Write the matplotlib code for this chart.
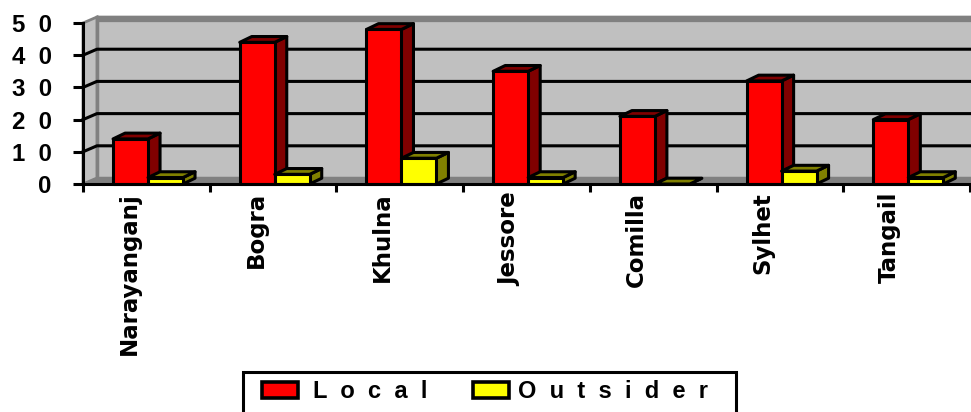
import matplotlib.pyplot as plt
from matplotlib.patches import Rectangle, Polygon
from matplotlib.font_manager import FontProperties
from matplotlib.transforms import offset_copy

# survey counts per district
cities = ['Narayanganj', 'Bogra', 'Khulna', 'Jessore', 'Comilla', 'Sylhet', 'Tangail']
local = [14, 44, 48, 35, 21, 32, 20]
outsider = [2, 3, 8, 2, 0, 4, 2]
yticks = [0, 10, 20, 30, 40, 50]
ytick_labels = ['0', '1  0', '2  0', '3  0', '4  0', '5  0']
series_names = ['L  o  c  a  l', 'O  u  t  s  i  d  e  r']
series_colors = ['#ff0000', '#ffff00']
series_shades = ['#800000', '#808000']

arial_b = FontProperties(family='Liberation Sans', weight='bold')
wide_b = FontProperties(family='DejaVu Sans', weight='bold', size=16.5)

W, H = 971, 412
fig = plt.figure(figsize=(W / 100, H / 100), dpi=100)
ax = fig.add_axes([83 / W, 228 / H, 887 / W, 161 / H])
n = len(cities)
ymax = 50
ax.set_xlim(0, n)
ax.set_ylim(0, ymax)
ax.set_facecolor('none')

# depth of the box (walls) and of the bars, in data units
wdx, wdy = 0.11, 1.86
bdx, bdy = 0.095, 1.8
lw = 2.2

# back wall, side wall and floor
ax.add_patch(Polygon([(wdx, wdy), (n + wdx, wdy), (n + wdx, ymax + wdy), (wdx, ymax + wdy)],
                     closed=True, fc='#c0c0c0', ec='#808080', lw=2.5, zorder=0, clip_on=False))
ax.plot([wdx, n + wdx], [ymax + wdy - 0.6, ymax + wdy - 0.6], color='#808080', lw=4.5,
        zorder=0.5, clip_on=False, solid_capstyle='butt')
ax.add_patch(Polygon([(0, 0), (wdx, wdy), (wdx, ymax + wdy), (0, ymax)],
                     closed=True, fc='#c0c0c0', ec='#808080', lw=2.0, zorder=0.6, clip_on=False))
ax.add_patch(Polygon([(0, 0), (n, 0), (n + wdx, wdy), (wdx, wdy)],
                     closed=True, fc='#808080', ec='#808080', lw=1, zorder=0.7, clip_on=False))

# gridlines run across the side wall and along the back wall
for v in yticks[1:-1]:
    ax.plot([0, wdx, n + wdx], [v, v + wdy, v + wdy], color='k', lw=lw, zorder=1, clip_on=False)


def bar3d(x0, w, v, face, shade):
    kw = dict(ec='k', lw=lw, joinstyle='round', clip_on=False)
    ax.add_patch(Polygon([(x0 + w, 0), (x0 + w + bdx, bdy), (x0 + w + bdx, v + bdy), (x0 + w, v)],
                         closed=True, fc=shade, zorder=2, **kw))
    ax.add_patch(Polygon([(x0, v), (x0 + bdx, v + bdy), (x0 + w + bdx, v + bdy), (x0 + w, v)],
                         closed=True, fc=shade, zorder=2, **kw))
    ax.add_patch(Rectangle((x0, 0), w, v, fc=face, zorder=2, **kw))


bw = 0.276
for i in range(n):
    bar3d(i + 0.237, bw, local[i], series_colors[0], series_shades[0])
    bar3d(i + 0.237 + bw, bw, outsider[i], series_colors[1], series_shades[1])

for side in ['top', 'right']:
    ax.spines[side].set_visible(False)
for side in ['left', 'bottom']:
    ax.spines[side].set_linewidth(lw)
    ax.spines[side].set_zorder(4)

ax.set_yticks(yticks)
ax.set_yticklabels(ytick_labels, fontproperties=arial_b, fontsize=17.3)
ax.tick_params(axis='y', direction='out', length=7.5, width=lw, pad=15)
ax.set_xticks(range(n + 1))
ax.set_xticklabels([''] * (n + 1))
ax.tick_params(axis='x', direction='out', length=6, width=lw)

label_trans = offset_copy(ax.get_xaxis_transform(), fig=fig, x=-17, y=-8, units='dots')
for i, name in enumerate(cities):
    ax.text(i + 0.5, 0, name, rotation=90, ha='center', va='top',
            fontproperties=wide_b, transform=label_trans)

# legend box along the bottom edge (positions in pixels from the top-left)
def fx(px):
    return px / W


def fy(py):
    return 1 - py / H


fig.patches.append(Rectangle((fx(243), fy(414)), fx(736) - fx(243), fy(372) - fy(414),
                             transform=fig.transFigure, fill=False, ec='k', lw=lw))
leg_font = FontProperties(family='Liberation Sans', weight='bold', size=17)
for sx, tx, name, color in zip([262, 473], [313, 518], series_names, series_colors):
    fig.patches.append(Rectangle((fx(sx), fy(398)), fx(36), 16 / H, transform=fig.transFigure,
                                 fc=color, ec='k', lw=2.6))
    fig.text(fx(tx), fy(398), name, ha='left', va='baseline', fontproperties=leg_font)

fig.savefig('out.png', dpi=100)
